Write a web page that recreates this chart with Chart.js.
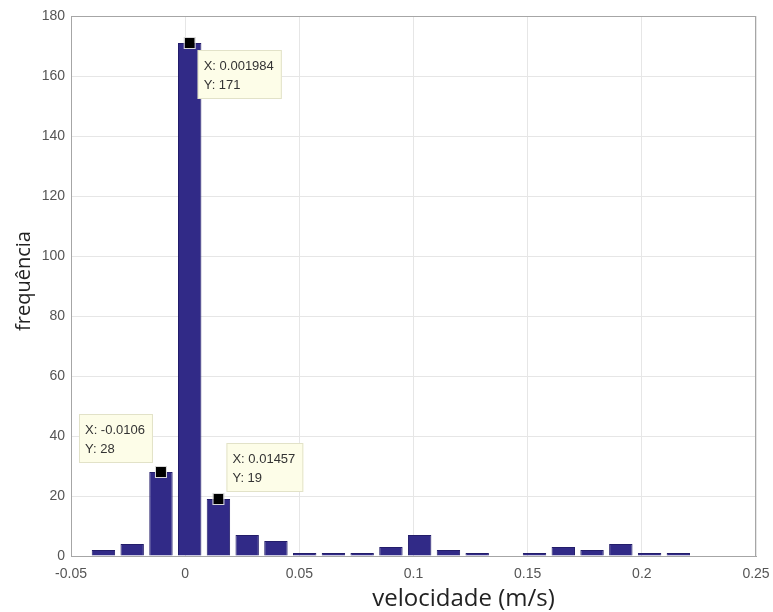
<!DOCTYPE html>
<html>
<head>
<meta charset="utf-8">
<script src="https://cdn.jsdelivr.net/npm/chart.js@4"></script>
<style>
html, body { margin: 0; padding: 0; background: #fff; }
</style>
</head>
<body>
<canvas id="myChart" width="773" height="612"></canvas>
<script>
// histogram bins (centres read from the datatips, width ~0.0126)
var binCenters = [-0.0358, -0.0232, -0.0106, 0.001984, 0.01457, 0.02716, 0.03975, 0.05234, 0.06493, 0.07752,
                  0.09011, 0.1027, 0.1153, 0.1279, 0.1405, 0.1530, 0.1656, 0.1782, 0.1908, 0.2034, 0.2160];
var counts = [2, 4, 28, 171, 19, 7, 5, 1, 1, 1, 3, 7, 2, 1, 0, 1, 3, 2, 4, 1, 1];

var xTicks = [-0.05, 0, 0.05, 0.1, 0.15, 0.2, 0.25];
var yTicks = [0, 20, 40, 60, 80, 100, 120, 140, 160, 180];

// datatips
var tipX = [0.001984, -0.0106, 0.01457];
var tipY = [171, 28, 19];
var tipText = ['0.001984', '-0.0106', '0.01457'];

var xTitle = 'velocidade (m/s)';
var yTitle = 'frequência';

var tipPlugin = {
    id: 'tips',
    afterDatasetsDraw: function (chart) {
        var ctx = chart.ctx;
        var xs = chart.scales.x, ys = chart.scales.y;
        var a = chart.chartArea;
        ctx.save();
        // box around axes
        ctx.strokeStyle = '#a6a6a6';
        ctx.lineWidth = 1;
        ctx.strokeRect(a.left + 0.5, a.top + 0.5, a.right - a.left - 1, a.bottom - a.top);

        ctx.font = '13px "Liberation Sans", Arial, sans-serif';
        var side = ['se', 'nw', 'ne'];
        for (var i = 0; i < tipX.length; i++) {
            var px = xs.getPixelForValue(tipX[i]);
            var py = ys.getPixelForValue(tipY[i]);
            var l1 = 'X: ' + tipText[i], l2 = 'Y: ' + tipY[i];
            var w = Math.max(ctx.measureText(l1).width, ctx.measureText(l2).width) + 14;
            var h = 49;
            var bx, by;
            if (side[i] === 'se') { bx = px + 8; by = py + 7; }
            else if (side[i] === 'nw') { bx = px - 8 - w; by = py - 9 - h; }
            else { bx = px + 8; by = py - 7 - h; }
            ctx.fillStyle = '#fdfde8';
            ctx.fillRect(bx, by, w, h);
            ctx.strokeStyle = '#e2e2c8';
            ctx.strokeRect(bx + 0.5, by + 0.5, w - 1, h - 1);
            ctx.fillStyle = '#333';
            ctx.textBaseline = 'middle';
            ctx.textAlign = 'left';
            ctx.fillText(l1, bx + 6, by + 16);
            ctx.fillText(l2, bx + 6, by + 35);
            // marker
            ctx.fillStyle = '#000';
            ctx.fillRect(px - 5, py - 5, 10, 10);
            ctx.strokeStyle = '#d8d8d8';
            ctx.strokeRect(px - 5.5, py - 5.5, 11, 11);
        }

        // axis titles
        ctx.fillStyle = '#222';
        ctx.textAlign = 'center';
        ctx.textBaseline = 'middle';
        ctx.font = '24px "Open Sans", sans-serif';
        ctx.fillText(xTitle, (a.left + a.right) / 2 + 50, 599);
        ctx.font = '20px "Open Sans", sans-serif';
        ctx.translate(24, (a.top + a.bottom) / 2 - 5);
        ctx.rotate(-Math.PI / 2);
        ctx.fillText(yTitle, 0, 0);
        ctx.restore();
    }
};

document.addEventListener('DOMContentLoaded', function () {
    var ctx = document.getElementById('myChart').getContext('2d');
    var points = binCenters.map(function (c, i) { return { x: c, y: counts[i] }; });
    var myChart = new Chart(ctx, {
        type: 'bar',
        data: {
            datasets: [{
                data: points,
                backgroundColor: '#312a87',
                borderColor: '#231d6a',
                borderWidth: 1,
                barPercentage: 0.82,
                categoryPercentage: 1.0
            }]
        },
        options: {
            responsive: false,
            animation: false,
            devicePixelRatio: 1,
            layout: { padding: { top: 16, right: 17, left: 0, bottom: 0 } },
            plugins: { legend: { display: false }, tooltip: { enabled: false } },
            scales: {
                x: {
                    type: 'linear',
                    offset: false,
                    min: -0.05,
                    max: 0.25,
                    afterBuildTicks: function (s) { s.ticks = xTicks.map(function (v) { return { value: v }; }); },
                    afterFit: function (s) { s.height = 56; s.paddingLeft = 0; s.paddingRight = 0; },
                    ticks: {
                        padding: 10,
                        color: '#555',
                        font: { family: '"Liberation Sans", Arial, sans-serif', size: 14 },
                        callback: function (v) { return String(parseFloat(v.toFixed(2))); }
                    },
                    grid: { color: '#e6e6e6', drawTicks: false, offset: false },
                    border: { color: '#a6a6a6' }
                },
                y: {
                    min: 0,
                    max: 180,
                    afterBuildTicks: function (s) { s.ticks = yTicks.map(function (v) { return { value: v }; }); },
                    afterFit: function (s) { s.width = 71; s.paddingTop = 0; s.paddingBottom = 0; },
                    ticks: {
                        padding: 6,
                        color: '#555',
                        font: { family: '"Liberation Sans", Arial, sans-serif', size: 14 }
                    },
                    grid: { color: '#e6e6e6', drawTicks: false },
                    border: { color: '#a6a6a6' }
                }
            }
        },
        plugins: [tipPlugin]
    });
});
</script>
</body>
</html>
